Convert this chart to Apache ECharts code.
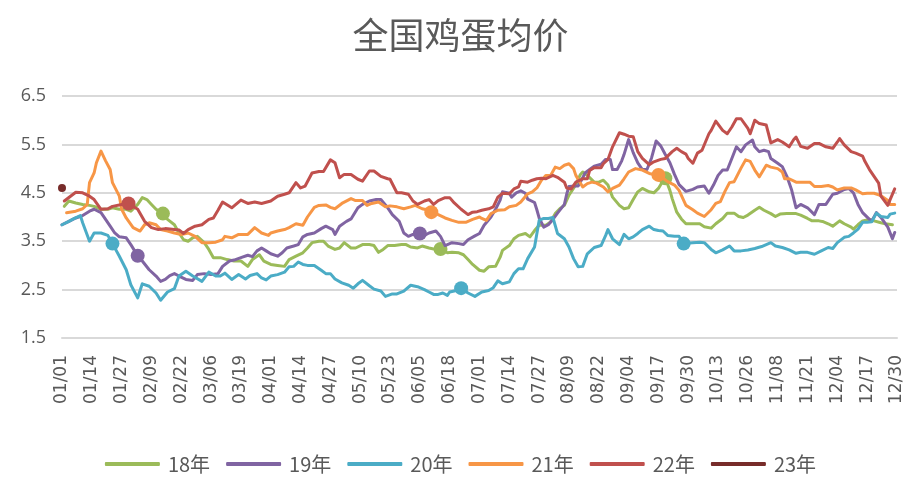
<!DOCTYPE html>
<html>
<head>
<meta charset="utf-8">
<script src="https://cdn.jsdelivr.net/npm/echarts@6/dist/echarts.min.js"></script>
<style>
html,body{margin:0;padding:0;background:#fff;}
#c{width:921px;height:489px;}
</style>
</head>
<body>
<div id="c"></div>
<script>
// ---- data ----
const title = '全国鸡蛋均价';
const seriesNames = ['18年','19年','20年','21年','22年','23年'];
const colors = ['#9BBB59','#8064A2','#4BACC6','#F79646','#C0504D','#772C2A'];
const yTicks = [1.5, 2.5, 3.5, 4.5, 5.5, 6.5];

// categories: every day of a (leap) calendar year, 01/01 .. 12/30
const categories = [];
for (let i = 0; i < 365; i++) {
  const d = new Date(Date.UTC(2020, 0, 1 + i));
  const mm = String(d.getUTCMonth() + 1).padStart(2, '0');
  const dd = String(d.getUTCDate()).padStart(2, '0');
  categories.push(mm + '/' + dd);
}

// [day index, price]
const y18 = [[1,4.22],[3,4.33],[6,4.29],[9,4.26],[12,4.24],[14,4.22],[17,4.16],[20,4.16],[22,4.19],[25,4.16],[28,4.16],[30,4.12],[33,4.26],[35,4.4],[37,4.36],[39,4.26],[41,4.16],[44,4.07],[46,3.95],[49,3.84],[51,3.67],[53,3.53],[55,3.5],[57,3.57],[59,3.6],[62,3.47],[64,3.33],[66,3.16],[69,3.16],[72,3.12],[75,3.09],[78,3.09],[81,2.98],[83,3.12],[86,3.22],[88,3.09],[91,3.02],[94,3.0],[97,2.98],[99,3.12],[102,3.19],[105,3.26],[107,3.36],[109,3.47],[112,3.5],[114,3.5],[116,3.4],[119,3.33],[121,3.36],[123,3.47],[126,3.36],[128,3.36],[131,3.43],[134,3.43],[136,3.41],[138,3.27],[140,3.33],[142,3.41],[145,3.41],[148,3.43],[150,3.43],[152,3.38],[155,3.36],[157,3.4],[160,3.36],[162,3.34],[165,3.34],[168,3.26],[170,3.27],[173,3.26],[175,3.22],[177,3.12],[179,3.02],[182,2.9],[184,2.88],[186,2.97],[189,2.98],[191,3.17],[192,3.31],[195,3.41],[197,3.55],[199,3.62],[202,3.66],[204,3.59],[206,3.72],[208,3.83],[211,3.83],[213,3.9],[215,4.07],[217,4.17],[219,4.24],[221,4.45],[224,4.67],[226,4.88],[227,4.93],[229,4.86],[232,4.72],[234,4.72],[236,4.76],[238,4.66],[240,4.41],[243,4.24],[245,4.17],[247,4.19],[249,4.36],[251,4.52],[253,4.59],[256,4.52],[258,4.5],[260,4.59],[262,4.75],[263,4.8],[265,4.55],[266,4.38],[268,4.1],[270,3.96],[272,3.86],[275,3.86],[278,3.86],[280,3.8],[283,3.77],[285,3.86],[288,3.97],[290,4.08],[293,4.08],[295,4.01],[297,3.99],[299,4.04],[302,4.14],[304,4.2],[306,4.14],[309,4.07],[311,4.01],[313,4.06],[316,4.07],[320,4.07],[322,4.04],[325,3.97],[327,3.92],[330,3.92],[332,3.9],[334,3.86],[336,3.81],[339,3.92],[341,3.86],[344,3.79],[345,3.75],[347,3.84],[349,3.92],[352,3.95],[354,3.92],[357,3.88],[359,3.86],[362,3.84]];
const y19 = [[0,3.84],[3,3.91],[6,3.98],[9,4.03],[12,4.12],[14,4.16],[17,4.09],[19,3.95],[21,3.81],[23,3.67],[25,3.59],[28,3.57],[30,3.43],[33,3.2],[35,3.09],[38,2.91],[41,2.78],[43,2.67],[45,2.71],[47,2.79],[49,2.83],[51,2.78],[54,2.71],[57,2.69],[59,2.81],[62,2.83],[65,2.81],[68,2.83],[70,2.98],[73,3.09],[75,3.11],[78,3.16],[81,3.21],[83,3.18],[85,3.3],[87,3.36],[89,3.3],[91,3.24],[94,3.19],[96,3.26],[98,3.36],[101,3.4],[103,3.43],[105,3.59],[107,3.64],[110,3.67],[113,3.76],[115,3.81],[118,3.74],[119,3.64],[121,3.81],[124,3.91],[126,3.96],[129,4.19],[131,4.26],[134,4.33],[137,4.36],[139,4.36],[142,4.19],[144,4.05],[147,3.91],[149,3.67],[151,3.6],[153,3.64],[156,3.66],[158,3.62],[160,3.67],[163,3.71],[165,3.6],[167,3.41],[170,3.47],[173,3.45],[175,3.43],[177,3.53],[180,3.61],[182,3.66],[184,3.83],[187,4.0],[189,4.16],[191,4.35],[192,4.52],[195,4.49],[196,4.41],[198,4.5],[200,4.54],[202,4.49],[203,4.37],[206,4.3],[207,4.15],[208,3.98],[210,3.79],[212,3.84],[214,3.95],[216,4.08],[219,4.26],[220,4.47],[221,4.63],[224,4.64],[225,4.64],[227,4.81],[228,4.91],[230,4.98],[232,5.05],[235,5.09],[237,5.19],[239,5.19],[240,4.98],[242,4.98],[244,5.16],[245,5.29],[247,5.6],[249,5.33],[251,5.12],[253,4.98],[255,4.98],[257,5.22],[259,5.57],[261,5.47],[263,5.29],[265,5.12],[267,4.88],[269,4.67],[272,4.53],[275,4.57],[277,4.62],[280,4.64],[282,4.49],[284,4.66],[286,4.86],[288,4.97],[290,4.97],[292,5.21],[294,5.45],[296,5.35],[298,5.49],[301,5.59],[302,5.45],[304,5.35],[306,5.38],[308,5.35],[309,5.21],[312,5.11],[314,5.04],[316,4.84],[318,4.57],[320,4.19],[322,4.26],[325,4.19],[328,4.05],[330,4.26],[333,4.26],[336,4.47],[338,4.49],[341,4.57],[343,4.59],[345,4.5],[347,4.26],[349,4.09],[352,3.95],[353,3.92],[355,4.09],[357,3.99],[360,3.79],[362,3.55],[363,3.68]];
const y20 = [[0,3.84],[3,3.91],[5,3.96],[8,4.03],[9,3.88],[12,3.5],[14,3.67],[17,3.67],[20,3.62],[22,3.45],[25,3.19],[28,2.91],[30,2.6],[33,2.33],[35,2.62],[38,2.57],[41,2.43],[43,2.28],[46,2.45],[49,2.52],[51,2.78],[54,2.88],[57,2.78],[61,2.67],[64,2.86],[67,2.78],[69,2.78],[71,2.84],[74,2.71],[77,2.81],[80,2.72],[82,2.79],[85,2.83],[87,2.74],[89,2.7],[91,2.78],[94,2.81],[97,2.86],[99,2.97],[101,2.98],[103,3.07],[105,3.02],[107,3.0],[110,3.0],[113,2.9],[115,2.83],[117,2.83],[119,2.72],[122,2.64],[125,2.59],[127,2.53],[129,2.62],[131,2.69],[134,2.58],[136,2.51],[139,2.47],[141,2.36],[144,2.41],[146,2.41],[149,2.47],[152,2.59],[155,2.56],[158,2.5],[160,2.45],[162,2.4],[164,2.4],[166,2.43],[168,2.38],[169,2.45],[171,2.47],[174,2.53],[177,2.43],[180,2.36],[183,2.45],[186,2.48],[188,2.54],[190,2.68],[192,2.62],[195,2.66],[197,2.83],[199,2.93],[201,2.93],[203,3.14],[206,3.38],[208,3.93],[210,3.97],[212,3.97],[214,3.99],[216,3.66],[219,3.55],[221,3.38],[223,3.14],[225,2.97],[227,2.98],[229,3.24],[232,3.37],[235,3.41],[237,3.62],[238,3.74],[240,3.55],[243,3.43],[245,3.64],[247,3.55],[249,3.59],[251,3.66],[253,3.74],[256,3.81],[258,3.74],[260,3.72],[262,3.71],[264,3.62],[267,3.6],[269,3.6],[271,3.45],[275,3.47],[278,3.48],[280,3.47],[283,3.33],[285,3.26],[288,3.32],[291,3.4],[293,3.3],[296,3.3],[299,3.32],[302,3.35],[305,3.39],[309,3.47],[311,3.4],[314,3.37],[317,3.32],[320,3.25],[322,3.27],[325,3.27],[328,3.23],[331,3.3],[334,3.37],[336,3.35],[338,3.47],[341,3.58],[343,3.6],[345,3.67],[347,3.75],[349,3.89],[351,3.89],[353,3.9],[355,4.08],[357,4.01],[360,3.99],[361,4.06],[363,4.08]];
const y21 = [[2,4.09],[6,4.12],[9,4.17],[11,4.26],[12,4.71],[14,4.91],[15,5.12],[17,5.36],[19,5.16],[21,4.98],[22,4.71],[25,4.43],[26,4.16],[28,3.98],[31,3.78],[34,3.71],[36,3.84],[38,3.88],[41,3.84],[43,3.74],[46,3.71],[49,3.67],[52,3.64],[55,3.67],[58,3.6],[61,3.47],[64,3.47],[67,3.48],[70,3.53],[71,3.6],[74,3.57],[77,3.64],[81,3.64],[84,3.78],[87,3.67],[90,3.62],[91,3.67],[94,3.71],[97,3.74],[99,3.78],[102,3.86],[105,3.83],[107,4.0],[110,4.2],[112,4.24],[115,4.25],[117,4.2],[119,4.17],[122,4.28],[126,4.38],[128,4.34],[131,4.34],[133,4.24],[135,4.28],[138,4.31],[141,4.21],[143,4.23],[146,4.21],[149,4.17],[152,4.21],[154,4.24],[157,4.17],[160,4.14],[161,4.1],[164,4.05],[167,3.98],[170,3.93],[173,3.89],[176,3.89],[179,3.95],[182,4.0],[183,3.97],[185,3.93],[187,4.07],[190,4.14],[193,4.15],[195,4.21],[198,4.24],[200,4.31],[203,4.48],[205,4.52],[207,4.6],[209,4.76],[211,4.86],[213,4.86],[215,5.03],[217,5.0],[219,5.07],[221,5.1],[223,5.0],[224,4.86],[227,4.62],[229,4.69],[231,4.72],[233,4.7],[236,4.62],[238,4.52],[240,4.59],[243,4.66],[245,4.79],[247,4.93],[250,5.0],[253,4.97],[256,4.9],[258,4.88],[260,4.87],[262,4.8],[264,4.73],[267,4.66],[269,4.55],[272,4.24],[275,4.15],[277,4.08],[280,4.01],[283,4.15],[285,4.28],[287,4.32],[289,4.53],[291,4.71],[293,4.73],[296,5.01],[298,5.18],[300,5.15],[302,4.97],[304,4.83],[307,5.07],[309,5.03],[312,5.0],[314,4.93],[315,4.79],[317,4.79],[320,4.72],[323,4.72],[326,4.72],[328,4.63],[331,4.63],[334,4.65],[336,4.62],[338,4.56],[341,4.6],[344,4.6],[346,4.56],[349,4.48],[351,4.49],[354,4.49],[357,4.44],[360,4.34],[361,4.26],[363,4.26]];
const y22 = [[1,4.33],[6,4.51],[9,4.5],[12,4.43],[14,4.36],[17,4.16],[20,4.17],[22,4.22],[26,4.26],[29,4.28],[33,4.16],[36,3.91],[39,3.78],[42,3.74],[45,3.76],[51,3.73],[53,3.66],[55,3.74],[58,3.81],[61,3.84],[64,3.95],[66,3.98],[68,4.14],[70,4.31],[74,4.19],[78,4.35],[81,4.28],[84,4.31],[87,4.28],[91,4.33],[94,4.43],[97,4.47],[99,4.5],[102,4.71],[104,4.6],[106,4.64],[109,4.91],[112,4.94],[114,4.94],[117,5.18],[119,5.12],[121,4.81],[123,4.88],[126,4.88],[129,4.78],[131,4.74],[134,4.95],[136,4.95],[139,4.84],[142,4.79],[143,4.78],[146,4.5],[148,4.5],[151,4.47],[153,4.33],[155,4.26],[158,4.33],[160,4.36],[162,4.26],[164,4.34],[167,4.4],[169,4.4],[171,4.29],[174,4.16],[177,4.05],[179,4.1],[181,4.11],[183,4.14],[186,4.17],[188,4.21],[190,4.41],[192,4.49],[195,4.48],[197,4.58],[199,4.62],[200,4.74],[203,4.72],[205,4.76],[207,4.79],[209,4.8],[211,4.79],[214,4.86],[216,4.82],[219,4.72],[220,4.6],[222,4.58],[224,4.72],[227,4.79],[229,4.79],[230,4.96],[232,5.02],[235,5.02],[236,5.1],[238,5.19],[240,5.45],[243,5.74],[245,5.71],[247,5.67],[249,5.66],[251,5.35],[253,5.21],[256,5.08],[258,5.14],[261,5.19],[263,5.21],[266,5.35],[268,5.42],[270,5.35],[272,5.3],[273,5.21],[275,5.11],[277,5.32],[279,5.38],[282,5.72],[283,5.79],[285,5.98],[288,5.79],[290,5.72],[292,5.86],[294,6.03],[296,6.03],[299,5.83],[300,5.72],[302,6.0],[304,5.93],[307,5.9],[308,5.72],[309,5.53],[312,5.6],[314,5.55],[317,5.45],[319,5.6],[320,5.65],[322,5.46],[325,5.42],[328,5.52],[330,5.52],[333,5.45],[336,5.42],[338,5.55],[339,5.62],[341,5.49],[344,5.35],[346,5.32],[349,5.26],[350,5.15],[352,4.98],[354,4.84],[356,4.7],[357,4.43],[360,4.24],[361,4.36],[363,4.58]];
const y23 = [[0,4.6]];

// highlighted points (large circle markers)
const m18 = [[44,4.07],[165,3.34],[263,4.8]];
const m19 = [[33,3.2],[156,3.66]];
const m20 = [[22,3.45],[174,2.53],[271,3.45]];
const m21 = [[161,4.1],[260,4.87]];
const m22 = [[29,4.28]];

const lineData = [y18, y19, y20, y21, y22, y23];
const markData = [m18, m19, m20, m21, m22, []];

// ---- chart ----
const chart = echarts.init(document.getElementById('c'), null, {renderer: 'canvas'});
const txt = '#595959';
const series = [];
seriesNames.forEach((name, i) => {
  series.push({
    name: name,
    type: 'line',
    data: lineData[i],
    symbol: i === 5 ? 'circle' : 'none',
    symbolSize: 8,
    showAllSymbol: true,
    lineStyle: {width: 3, color: colors[i], cap: 'round', join: 'round'},
    itemStyle: {color: colors[i]},
    z: 2 + i
  });
});
seriesNames.forEach((name, i) => {
  if (!markData[i].length) return;
  series.push({
    name: name + '_m',
    type: 'scatter',
    data: markData[i],
    symbol: 'circle',
    symbolSize: 14,
    itemStyle: {color: colors[i], opacity: 1},
    z: 2 + i
  });
});

chart.setOption({
  animation: false,
  backgroundColor: '#fff',
  title: {
    text: title,
    left: 'center',
    top: 12,
    textStyle: {color: txt, fontSize: 36, fontWeight: 'normal', fontFamily: '"Noto Sans CJK SC", sans-serif'}
  },
  legend: {
    data: seriesNames,
    left: 'center',
    top: 449,
    icon: 'roundRect',
    itemWidth: 55,
    itemHeight: 4,
    itemGap: 16,
    textStyle: {color: txt, fontSize: 20, padding: [0, 0, 0, 3], fontFamily: '"Noto Sans CJK SC", sans-serif'}
  },
  grid: {left: 62, right: 24, top: 96, bottom: 151, containLabel: false},
  xAxis: {
    type: 'category',
    data: categories,
    boundaryGap: false,
    axisLine: {show: true, lineStyle: {color: '#d9d9d9', width: 2}},
    axisTick: {show: false},
    axisLabel: {interval: 12, rotate: 90, margin: 17, color: txt, fontSize: 17, fontFamily: '"DejaVu Sans", sans-serif'},
    splitLine: {show: false}
  },
  yAxis: {
    type: 'value',
    min: yTicks[0],
    max: yTicks[yTicks.length - 1],
    interval: 1,
    axisLine: {show: false},
    axisTick: {show: false},
    axisLabel: {margin: 16, color: txt, fontSize: 18, fontFamily: '"Open Sans", sans-serif', formatter: v => v.toFixed(1)},
    splitLine: {lineStyle: {color: '#d9d9d9', width: 2}}
  },
  series: series
});
</script>
</body>
</html>
